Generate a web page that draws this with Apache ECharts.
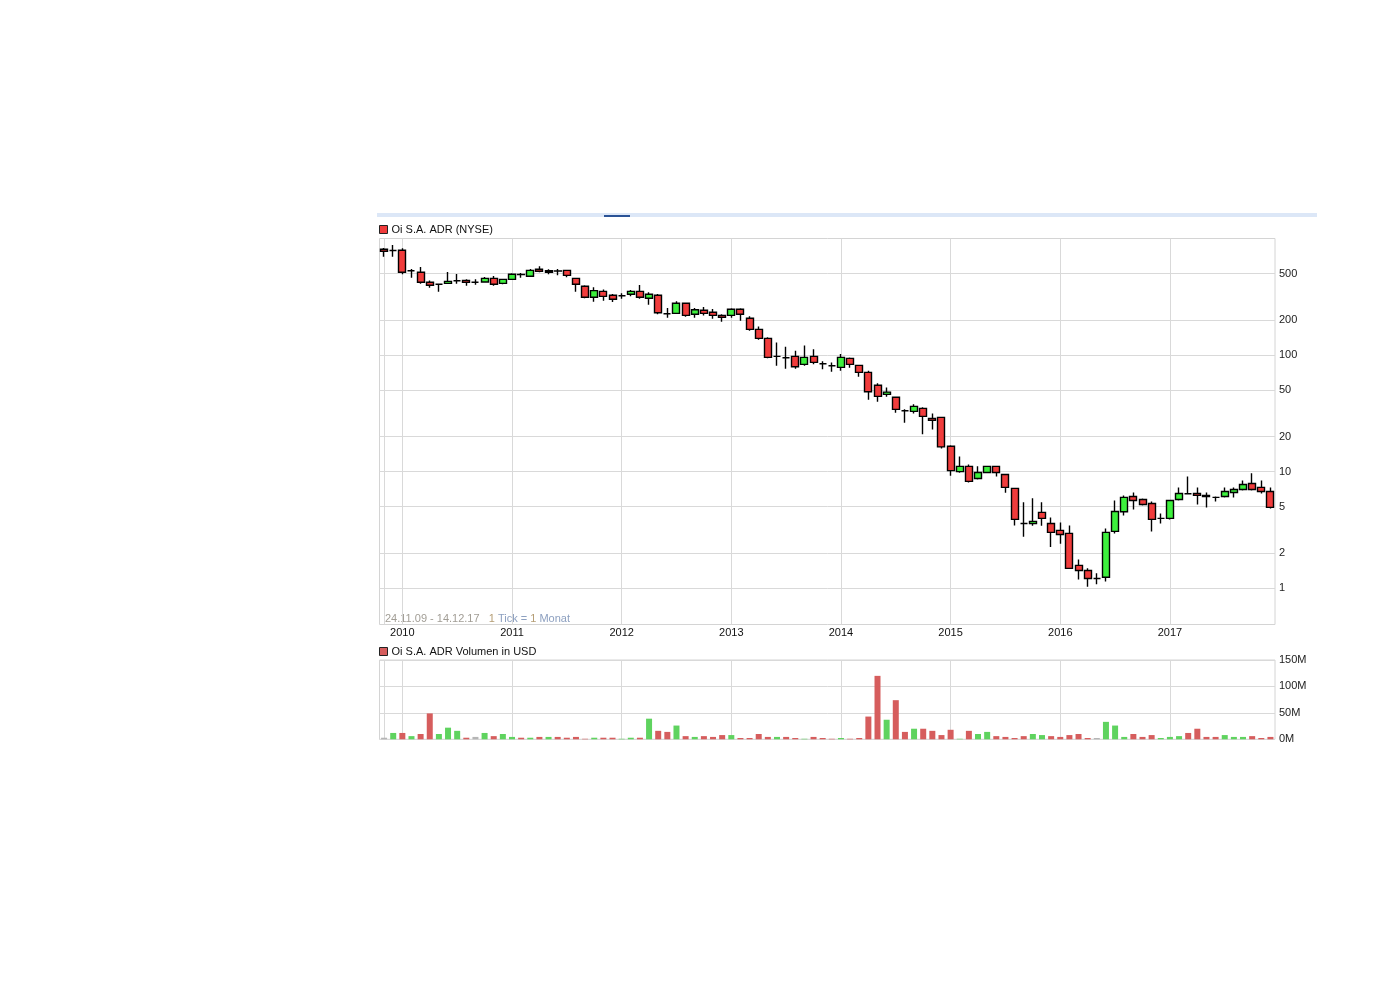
<!DOCTYPE html>
<html><head><meta charset="utf-8">
<script src="https://cdn.jsdelivr.net/npm/echarts@6/dist/echarts.min.js"></script>
<style>html,body{margin:0;padding:0;background:#fff}#c{width:1391px;height:1002px}</style>
</head><body><div id="c"></div>
<script>
const months = ['11.2009','12.2009',
'01.2010','02.2010','03.2010','04.2010','05.2010','06.2010','07.2010','08.2010','09.2010','10.2010','11.2010','12.2010',
'01.2011','02.2011','03.2011','04.2011','05.2011','06.2011','07.2011','08.2011','09.2011','10.2011','11.2011','12.2011',
'01.2012','02.2012','03.2012','04.2012','05.2012','06.2012','07.2012','08.2012','09.2012','10.2012','11.2012','12.2012',
'01.2013','02.2013','03.2013','04.2013','05.2013','06.2013','07.2013','08.2013','09.2013','10.2013','11.2013','12.2013',
'01.2014','02.2014','03.2014','04.2014','05.2014','06.2014','07.2014','08.2014','09.2014','10.2014','11.2014','12.2014',
'01.2015','02.2015','03.2015','04.2015','05.2015','06.2015','07.2015','08.2015','09.2015','10.2015','11.2015','12.2015',
'01.2016','02.2016','03.2016','04.2016','05.2016','06.2016','07.2016','08.2016','09.2016','10.2016','11.2016','12.2016',
'01.2017','02.2017','03.2017','04.2017','05.2017','06.2017','07.2017','08.2017','09.2017','10.2017','11.2017','12.2017'];

const openP = [808,790,792,529,513,421,405,412,434,437,421,423,455,412,446,491,474,545,513,527,533,455,389,313,352,326,323,332,352,307,
326,226,228,278,224,242,233,219,219,247,207,166,139,97.5,94.8,97.5,83.2,97.5,84.2,80.9,78.4,93.7,81.6,71.1,55.0,46.0,43.4,33.3,32.9,34.9,
28.6,29.2,16.5,10.0,11.1,8.74,9.84,11.1,9.46,7.18,3.59,3.59,4.47,3.59,3.13,2.95,1.57,1.42,1.21,1.24,3.07,4.52,6.12,5.77,5.33,3.97,3.97,5.77,6.45,6.50,
6.25,6.01,6.12,6.63,7.03,7.92,7.32,6.76];
const closeP = [777,790,513,529,421,397,405,429,434,421,421,455,405,446,493,490,533,523,529,526,483,405,313,357,319,301,323,352,313,332,
231,226,278,219,245,228,219,211,247,224,166,139,95.5,97.5,94.8,79.4,95.5,86.5,84.2,80.9,95.5,83.2,71.1,48.4,44.2,48.1,34.2,33.3,36.3,29.8,
27.5,16.3,10.2,11.1,8.24,9.84,11.1,9.84,7.32,3.89,3.59,3.74,3.97,3.01,2.89,1.48,1.42,1.21,1.21,3.01,4.55,6.01,5.66,5.23,3.89,3.97,5.66,6.50,6.45,6.25,
6.12,6.01,6.76,7.03,7.76,7.03,6.76,4.93];
const lowP = [698,698,493,461,409,378,349,409,409,393,401,421,393,405,443,461,470,513,493,483,465,349,307,287,293,285,304,319,304,270,
224,209,226,213,209,219,205,193,209,197,162,135,93.7,80.9,76.3,76.3,80.9,83.2,75.4,71.9,73.3,77.8,65.2,41.3,39.7,43.8,32.0,26.2,31.6,20.9,
23.0,15.8,9.2,9.8,8.08,8.57,9.7,9.10,6.58,3.45,2.76,3.43,3.43,2.26,2.40,1.46,1.19,1.03,1.08,1.14,2.95,4.21,4.74,5.13,3.07,3.59,3.89,5.66,6.40,5.23,
4.93,5.55,6.01,6.01,6.90,6.90,6.50,4.83];
const highP = [829,880,824,547,569,437,408,515,496,446,446,467,476,448,503,505,547,577,545,547,535,457,397,381,366,334,339,361,399,345,
334,253,289,280,253,258,248,224,252,252,215,176,142,128,118,109,121,112,88.3,86.5,102,95.5,82,73.3,57.2,52.8,43.6,34.2,37.8,35.6,
31.6,29.4,16.8,13.5,11.5,11.1,11.2,11.2,9.5,7.2,5.47,5.92,5.47,4.04,3.66,3.45,1.76,1.48,1.34,3.25,5.66,6.25,6.63,5.89,5.55,4.38,5.7,7.32,9.10,7.32,
6.63,6.12,7.32,7.32,8.40,9.66,8.40,7.32];
const volumeM = [3,12,12,6,10,49,10,22,16,3,4.5,12,6,10,4.5,3,3,4.5,4.5,4.5,3,4.5,1,3,3,3,1,3,3,39,
16,14,26,6,4.5,6,4.5,8,8,2.5,2.5,10,4.5,4.5,4.5,2.5,1,4.5,2.5,1,2.5,1,2.5,43,120,37,74,14,20,20,
16,8,18,1,16,10,14,6,4.5,2.5,6,10,8,6,4.5,8,10,2.5,2.5,33,26,4.5,10,4.5,8,2.5,4.5,6,12,20,
4.5,4.5,8,4.5,4.5,6,2.5,4.5];

const priceTicks = [1,2,5,10,20,50,100,200,500];
const volumeTicks = [0,50,100,150];
const yearTicks = ['2010','2011','2012','2013','2014','2015','2016','2017'];

const FONT = 'Liberation Sans, Arial, sans-serif';
const UP = '#3df03d', DOWN = '#f03c3c';
const VUP = '#5fd35f', VDOWN = '#d65d5d', VFLAT = '#b5b5b5';
const GRIDC = '#d9d9d9';

const janIdx = months.map((m, i) => m.startsWith('01.') ? i : -1).filter(i => i >= 0);
const candleData = months.map((m, i) => [i, openP[i], closeP[i], lowP[i], highP[i]]);
const volData = months.map((m, i) => {
  let c = VFLAT;
  if (i > 0) { if (closeP[i] > closeP[i-1]) c = VUP; else if (closeP[i] < closeP[i-1]) c = VDOWN; }
  return { value: [i, volumeM[i]], itemStyle: { color: c } };
});

const xBase = (gi, showLabel) => ({
  type: 'value', gridIndex: gi, min: -0.5, max: months.length - 0.5,
  axisLine: { show: false },
  axisTick: { show: false, customValues: [0].concat(janIdx) },
  axisLabel: {
    show: showLabel, customValues: janIdx, margin: 3,
    fontFamily: FONT, fontSize: 11, color: '#111',
    formatter: v => yearTicks[janIdx.indexOf(Math.round(v))] || ''
  },
  splitLine: { show: true, lineStyle: { color: GRIDC, width: 1 } }
});

const chart = echarts.init(document.getElementById('c'), null, { renderer: 'canvas' });
chart.setOption({
  animation: false,
  backgroundColor: '#fff',
  grid: [
    { left: 379.5, right: 116, top: 238.5, height: 386, show: true, borderColor: '#d4d4d4', borderWidth: 1, backgroundColor: 'transparent' },
    { left: 379.5, right: 116, top: 660, height: 79.3, show: true, borderColor: '#d4d4d4', borderWidth: 1, backgroundColor: 'transparent' }
  ],
  legend: [
    { left: 379, top: 224, padding: 0, itemWidth: 8, itemHeight: 8, itemGap: 0, selectedMode: false,
      textStyle: { fontFamily: FONT, fontSize: 11, color: '#111', padding: [0, 0, 0, -1] },
      data: [{ name: 'Oi S.A. ADR (NYSE)', icon: 'rect', itemStyle: { color: DOWN, borderColor: '#222', borderWidth: 1 } }] },
    { left: 379, top: 646, padding: 0, itemWidth: 8, itemHeight: 8, itemGap: 0, selectedMode: false,
      textStyle: { fontFamily: FONT, fontSize: 11, color: '#111', padding: [0, 0, 0, -1] },
      data: [{ name: 'Oi S.A. ADR Volumen in USD', icon: 'rect', itemStyle: { color: VDOWN, borderColor: '#222', borderWidth: 1 } }] }
  ],
  xAxis: [xBase(0, true), xBase(1, false)],
  yAxis: [
    { type: 'log', logBase: 10, gridIndex: 0, position: 'right', min: 0.488, max: 1000,
      axisLine: { show: false },
      axisTick: { show: false, customValues: priceTicks },
      axisLabel: { customValues: priceTicks, margin: 4, padding: [2, 0, 0, 0], fontFamily: FONT, fontSize: 11, color: '#222', formatter: v => String(v) },
      splitLine: { show: true, lineStyle: { color: GRIDC, width: 1 } } },
    { type: 'value', gridIndex: 1, position: 'right', min: 0, max: 150, interval: 50,
      axisLine: { show: false }, axisTick: { show: false },
      axisLabel: { margin: 4, padding: [2, 0, 0, 0], fontFamily: FONT, fontSize: 11, color: '#222', formatter: v => v + 'M' },
      splitLine: { show: true, lineStyle: { color: GRIDC, width: 1 } } }
  ],
  series: [
    { name: 'Oi S.A. ADR (NYSE)', type: 'candlestick', xAxisIndex: 0, yAxisIndex: 0,
      barWidth: 7.5,
      itemStyle: { color: UP, color0: DOWN, borderColor: '#000', borderColor0: '#000', borderColorDoji: '#000', borderWidth: 1.4 },
      data: candleData },
    { name: 'Oi S.A. ADR Volumen in USD', type: 'bar', xAxisIndex: 1, yAxisIndex: 1,
      barWidth: 6, itemStyle: { color: VDOWN }, data: volData }
  ],
  graphic: [
    { type: 'rect', left: 377, top: 213, shape: { width: 940, height: 4 }, style: { fill: '#dce7f7' }, silent: true },
    { type: 'rect', left: 604, top: 215, shape: { width: 26, height: 2 }, style: { fill: '#2b5396' }, silent: true },
    { type: 'text', left: 385, top: 613, silent: true,
      style: { text: '{a|24.11.09 - 14.12.17}   {b|1} {c|Tick =} {b|1} {c|Monat}', font: '11px ' + FONT,
        rich: { a: { fill: '#a19d95', font: '11px ' + FONT }, b: { fill: '#b59d74', font: '11px ' + FONT }, c: { fill: '#8da0c0', font: '11px ' + FONT } } } }
  ]
});
</script></body></html>
